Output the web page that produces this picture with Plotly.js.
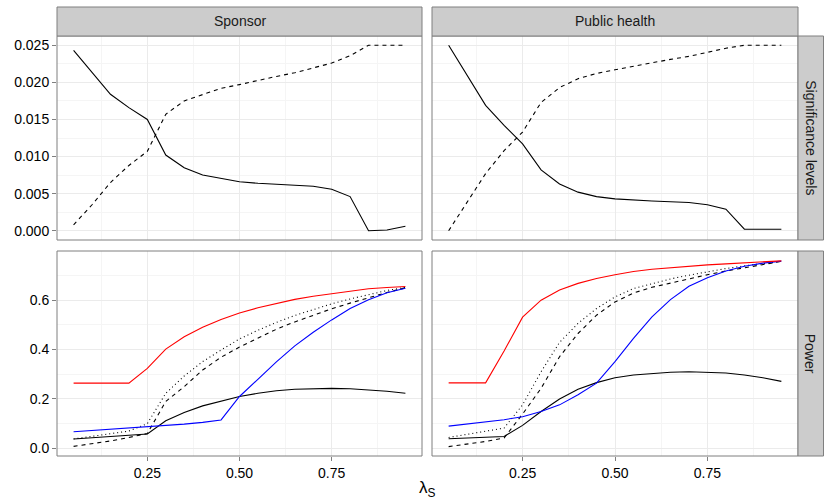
<!DOCTYPE html>
<html>
<head>
<meta charset="utf-8">
<script src="https://cdn.plot.ly/plotly-3.0.1.min.js"></script>
<style>html,body{margin:0;padding:0;background:#fff;}#chart{width:824px;height:502px;}</style>
</head>
<body>
<div id="chart"></div>
<script>
// ---- data ----
const lambdaS = [0.05,0.10,0.15,0.20,0.25,0.30,0.35,0.40,0.45,0.50,0.55,0.60,0.65,0.70,0.75,0.80,0.85,0.90,0.95];
const facetCols = ["Sponsor", "Public health"];
const facetRows = ["Significance levels", "Power"];

// Significance levels
const sigSponsorSolid  = [0.0243,0.0214,0.0184,0.0166,0.0150,0.0102,0.0085,0.0075,0.0070,0.0066,0.0064,0.0063,0.0061,0.0060,0.0056,0.0046,0.0000,0.0001,0.0006];
const sigSponsorDashed = [0.0008,0.0035,0.0065,0.0088,0.0107,0.0157,0.0175,0.0184,0.0192,0.0197,0.0203,0.0208,0.0213,0.0219,0.0226,0.0236,0.0250,0.0250,0.0250];
const sigPublicSolid   = [0.0250,0.0209,0.0169,0.0142,0.0117,0.0082,0.0063,0.0052,0.0046,0.0043,0.0041,0.0040,0.0039,0.0038,0.0035,0.0029,0.0002,0.0002,0.0002];
const sigPublicDashed  = [0.0000,0.0038,0.0077,0.0108,0.0133,0.0173,0.0193,0.0205,0.0212,0.0217,0.0222,0.0226,0.0231,0.0235,0.0241,0.0246,0.0250,0.0250,0.0250];

// Power - Sponsor
const powSponsorRed    = [0.264,0.264,0.264,0.264,0.324,0.402,0.452,0.490,0.522,0.548,0.569,0.586,0.603,0.616,0.627,0.638,0.646,0.651,0.655];
const powSponsorBlue   = [0.067,0.072,0.077,0.082,0.086,0.091,0.098,0.105,0.115,0.210,0.280,0.350,0.415,0.470,0.520,0.566,0.602,0.630,0.648];
const powSponsorSolid  = [0.038,0.043,0.048,0.053,0.058,0.112,0.145,0.172,0.192,0.210,0.223,0.233,0.239,0.242,0.243,0.241,0.237,0.231,0.223];
const powSponsorDashed = [0.008,0.018,0.030,0.044,0.060,0.190,0.250,0.317,0.369,0.410,0.447,0.482,0.512,0.540,0.565,0.588,0.610,0.631,0.650];
const powSponsorDotted = [0.038,0.048,0.058,0.070,0.100,0.223,0.293,0.351,0.398,0.443,0.478,0.510,0.538,0.563,0.585,0.605,0.623,0.639,0.652];

// Power - Public health
const powPublicRed     = [0.265,0.265,0.265,0.394,0.531,0.600,0.641,0.668,0.688,0.703,0.716,0.725,0.732,0.738,0.743,0.747,0.751,0.755,0.759];
const powPublicBlue    = [0.090,0.098,0.105,0.116,0.128,0.149,0.176,0.217,0.264,0.351,0.445,0.532,0.602,0.656,0.691,0.718,0.737,0.750,0.758];
const powPublicSolid   = [0.039,0.042,0.045,0.048,0.093,0.149,0.200,0.239,0.266,0.286,0.297,0.303,0.308,0.310,0.309,0.305,0.297,0.286,0.271];
const powPublicDashed  = [0.007,0.017,0.028,0.042,0.139,0.243,0.371,0.465,0.539,0.593,0.629,0.652,0.670,0.687,0.703,0.718,0.731,0.745,0.757];
const powPublicDotted  = [0.044,0.056,0.068,0.082,0.176,0.310,0.429,0.506,0.566,0.613,0.647,0.668,0.686,0.701,0.716,0.728,0.739,0.749,0.757];

const xTickVals = [0.25, 0.50, 0.75];
const xTickText = ["0.25", "0.50", "0.75"];

// ---- styles ----
const W = 824, H = 502;
const px = v => v / W, py = v => 1 - v / H;
const colL = [px(57), px(422)], colR = [px(432), px(798)];
const rowT = [py(240), py(36)], rowB = [py(456), py(251)];
const FONT = "Liberation Sans, Arial, Helvetica, sans-serif";
const DASH = "4px,4px", DOT = "1px,3px";

function tr(y, ax, color, dash) {
  return {x: lambdaS, y: y, type: "scatter", mode: "lines", xaxis: "x" + ax, yaxis: "y" + ax,
    line: {color: color, width: 1.1, dash: dash}, hoverinfo: "skip", showlegend: false};
}
const data = [
  tr(sigSponsorSolid, "", "#000", "solid"),
  tr(sigSponsorDashed, "", "#000", DASH),
  tr(sigPublicSolid, "2", "#000", "solid"),
  tr(sigPublicDashed, "2", "#000", DASH),
  tr(powSponsorSolid, "3", "#000", "solid"),
  tr(powSponsorDashed, "3", "#000", DASH),
  tr(powSponsorDotted, "3", "#000", DOT),
  tr(powSponsorBlue, "3", "#0000ff", "solid"),
  tr(powSponsorRed, "3", "#ff0000", "solid"),
  tr(powPublicSolid, "4", "#000", "solid"),
  tr(powPublicDashed, "4", "#000", DASH),
  tr(powPublicDotted, "4", "#000", DOT),
  tr(powPublicBlue, "4", "#0000ff", "solid"),
  tr(powPublicRed, "4", "#ff0000", "solid")
];

const tickFont = {family: FONT, size: 14, color: "#000"};
function xax(domain, anchor, showLabels) {
  return {domain: domain, anchor: anchor, range: [0.005, 0.995], tickvals: xTickVals, ticktext: xTickText,
    showticklabels: showLabels, ticks: showLabels ? "outside" : "", ticklen: 4, tickcolor: "#7f7f7f",
    tickfont: tickFont, showgrid: true, gridcolor: "#ebebeb", gridwidth: 1, zeroline: false, showline: false,
    minor: {tickvals: [0.125, 0.375, 0.625, 0.875], showgrid: true, gridcolor: "#f5f5f5", gridwidth: 1, ticks: ""}};
}
function yax(domain, anchor, range, tv, fmt, minorVals, showLabels) {
  return {domain: domain, anchor: anchor, range: range, tickvals: tv, tickformat: fmt,
    showticklabels: showLabels, ticks: showLabels ? "outside" : "", ticklen: 4, tickcolor: "#7f7f7f",
    tickfont: tickFont, showgrid: true, gridcolor: "#ebebeb", gridwidth: 1, zeroline: false, showline: false,
    minor: {tickvals: minorVals, showgrid: true, gridcolor: "#f5f5f5", gridwidth: 1, ticks: ""}};
}
const sigTicks = [0, 0.005, 0.010, 0.015, 0.020, 0.025];
const sigMinor = [0.0025, 0.0075, 0.0125, 0.0175, 0.0225];
const powTicks = [0, 0.2, 0.4, 0.6];
const powMinor = [0.1, 0.3, 0.5, 0.7];
const sigRange = [-0.00125, 0.02625], powRange = [-0.031, 0.799];

const border = {color: "#7f7f7f", width: 1};
function rect(x0, x1, y0, y1, fill) {
  return {type: "rect", xref: "paper", yref: "paper", x0: x0, x1: x1, y0: y0, y1: y1,
    line: border, fillcolor: fill || "rgba(0,0,0,0)", layer: "above"};
}
const stripTop = [py(36), py(7)];
const stripR = [px(798), px(823.5)];
const shapes = [
  rect(colL[0], colL[1], rowT[0], rowT[1]), rect(colR[0], colR[1], rowT[0], rowT[1]),
  rect(colL[0], colL[1], rowB[0], rowB[1]), rect(colR[0], colR[1], rowB[0], rowB[1]),
  rect(colL[0], colL[1], stripTop[0], stripTop[1], "#cccccc"),
  rect(colR[0], colR[1], stripTop[0], stripTop[1], "#cccccc"),
  rect(stripR[0], stripR[1], rowT[0], rowT[1], "#cccccc"),
  rect(stripR[0], stripR[1], rowB[0], rowB[1], "#cccccc")
];
const stripFont = {family: FONT, size: 14, color: "#1a1a1a"};
function ann(text, x, y, angle, font) {
  return {text: text, x: x, y: y, xref: "paper", yref: "paper", xanchor: "center", yanchor: "middle",
    showarrow: false, textangle: angle || 0, font: font || stripFont};
}
const annotations = [
  ann(facetCols[0], (colL[0] + colL[1]) / 2, (stripTop[0] + stripTop[1]) / 2),
  ann(facetCols[1], (colR[0] + colR[1]) / 2, (stripTop[0] + stripTop[1]) / 2),
  ann(facetRows[0], (stripR[0] + stripR[1]) / 2, (rowT[0] + rowT[1]) / 2, 90),
  ann(facetRows[1], (stripR[0] + stripR[1]) / 2, (rowB[0] + rowB[1]) / 2, 90),
  ann("λ<sub>S</sub>", px(427.5), py(489), 0, {family: FONT, size: 17, color: "#000"})
];

const layout = {
  width: W, height: H, margin: {l: 0, r: 0, t: 0, b: 0},
  paper_bgcolor: "#fff", plot_bgcolor: "#fff", showlegend: false,
  xaxis: xax(colL, "y", false), yaxis: yax(rowT, "x", sigRange, sigTicks, ".3f", sigMinor, true),
  xaxis2: xax(colR, "y2", false), yaxis2: yax(rowT, "x2", sigRange, sigTicks, ".3f", sigMinor, false),
  xaxis3: xax(colL, "y3", true), yaxis3: yax(rowB, "x3", powRange, powTicks, ".1f", powMinor, true),
  xaxis4: xax(colR, "y4", true), yaxis4: yax(rowB, "x4", powRange, powTicks, ".1f", powMinor, false),
  shapes: shapes, annotations: annotations
};
Plotly.newPlot("chart", data, layout, {staticPlot: true, displayModeBar: false});
</script>
</body>
</html>
